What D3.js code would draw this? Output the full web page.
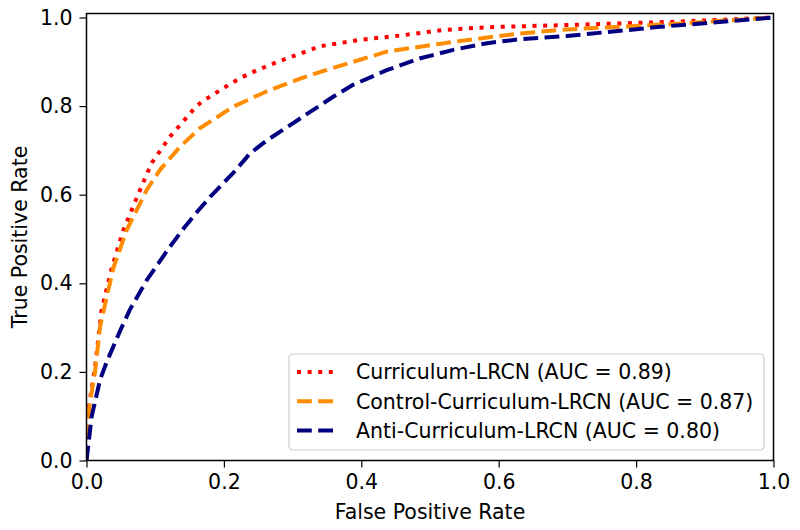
<!DOCTYPE html>
<html>
<head>
<meta charset="utf-8">
<script src="https://cdn.jsdelivr.net/npm/d3@7"></script>
<style>
  body { margin: 0; background: #fff; }
  svg { display: block; font-family: "DejaVu Sans", sans-serif; }
</style>
</head>
<body>
<svg id="chart" width="800" height="530"></svg>
<script>
// ---- data ----
const seriesNames = [
  "Curriculum-LRCN (AUC = 0.89)",
  "Control-Curriculum-LRCN (AUC = 0.87)",
  "Anti-Curriculum-LRCN (AUC = 0.80)"
];
const curriculumFPR = [0, 0, 0.005, 0.0124, 0.022, 0.0367, 0.0536, 0.078, 0.095, 0.1216, 0.16, 0.17, 0.209, 0.2235, 0.248, 0.282, 0.34, 0.40, 0.461, 0.52, 0.583, 0.699, 0.85, 1];
const curriculumTPR = [0, 0.08, 0.137, 0.21, 0.34, 0.434, 0.52, 0.611, 0.672, 0.731, 0.80, 0.812, 0.85, 0.863, 0.881, 0.902, 0.935, 0.950, 0.960, 0.972, 0.978, 0.983, 0.99, 1];
const controlFPR = [0, 0, 0.005, 0.0124, 0.0197, 0.039, 0.0585, 0.0877, 0.107, 0.136, 0.165, 0.214, 0.262, 0.311, 0.344, 0.437, 0.534, 0.631, 0.699, 0.85, 1];
const controlTPR = [0, 0.06, 0.13, 0.2, 0.302, 0.434, 0.52, 0.611, 0.656, 0.708, 0.75, 0.799, 0.833, 0.862, 0.879, 0.923, 0.945, 0.964, 0.973, 0.985, 1];
const antiFPR = [0, 0.0075, 0.0197, 0.030, 0.039, 0.049, 0.063, 0.0877, 0.1216, 0.143, 0.163, 0.180, 0.214, 0.238, 0.262, 0.311, 0.359, 0.388, 0.437, 0.486, 0.534, 0.583, 0.631, 0.699, 0.835, 1];
const antiTPR = [0, 0.099, 0.182, 0.225, 0.257, 0.293, 0.34, 0.407, 0.483, 0.527, 0.565, 0.595, 0.650, 0.693, 0.722, 0.772, 0.821, 0.848, 0.881, 0.908, 0.927, 0.942, 0.951, 0.958, 0.979, 1];
const xTicks = [0.0, 0.2, 0.4, 0.6, 0.8, 1.0];
const yTicks = [0.0, 0.2, 0.4, 0.6, 0.8, 1.0];

// ---- styles ----
const colors = ["#ff0000", "#ff8c00", "#000080"];
const dashes = ["4,6.6", "14.8,6.4", "14.8,6.4"];
const LW = 4;
const FS = 20.5;

const svg = d3.select("#chart");
const mL = 86.5, mR = 773.5, mT = 13.5, mB = 460.5;
const x = d3.scaleLinear().domain([0, 1]).range([mL, mR]);
const y = d3.scaleLinear().domain([0, 1.009]).range([mB, mT]);

const series = [
  curriculumFPR.map((v, i) => [v, curriculumTPR[i]]),
  controlFPR.map((v, i) => [v, controlTPR[i]]),
  antiFPR.map((v, i) => [v, antiTPR[i]])
];

svg.append("defs").append("clipPath").attr("id", "clip")
  .append("rect").attr("x", mL).attr("y", mT).attr("width", mR - mL).attr("height", mB - mT);

const line = d3.line().x(d => x(d[0])).y(d => y(d[1]));
const g = svg.append("g").attr("clip-path", "url(#clip)");
series.forEach((s, i) => {
  g.append("path").datum(s)
    .attr("d", line)
    .attr("fill", "none")
    .attr("stroke", colors[i])
    .attr("stroke-width", LW)
    .attr("stroke-dasharray", dashes[i])
    .attr("stroke-linejoin", "round");
});

// axes
const fmt = d3.format(".1f");
const xAxis = svg.append("g").attr("transform", `translate(0,${mB})`)
  .call(d3.axisBottom(x).tickValues(xTicks).tickFormat(fmt).tickSize(7).tickPadding(7));
const yAxis = svg.append("g").attr("transform", `translate(${mL},0)`)
  .call(d3.axisLeft(y).tickValues(yTicks).tickFormat(fmt).tickSize(7).tickPadding(7));
[xAxis, yAxis].forEach(a => {
  a.select(".domain").remove();
  a.selectAll("line").attr("stroke", "#000").attr("stroke-width", 1.2);
  a.selectAll("text").attr("font-family", "DejaVu Sans").attr("font-size", FS).attr("fill", "#000");
});

// frame
svg.append("rect").attr("x", mL).attr("y", mT).attr("width", mR - mL).attr("height", mB - mT)
  .attr("fill", "none").attr("stroke", "#000").attr("stroke-width", 1.5);

// axis labels
svg.append("text").attr("x", (mL + mR) / 2).attr("y", 519)
  .attr("text-anchor", "middle").attr("font-size", FS).text("False Positive Rate");
svg.append("text").attr("transform", `translate(27,${(mT + mB) / 2}) rotate(-90)`)
  .attr("text-anchor", "middle").attr("font-size", FS).text("True Positive Rate");

// legend
const lg = svg.append("g");
lg.append("rect").attr("x", 289).attr("y", 354).attr("width", 475).attr("height", 96)
  .attr("rx", 4).attr("fill", "#fff").attr("fill-opacity", 0.8)
  .attr("stroke", "#cccccc").attr("stroke-width", 1.2);
seriesNames.forEach((name, i) => {
  const yy = 372 + i * 29.3;
  lg.append("line").attr("x1", 297).attr("x2", 334).attr("y1", yy).attr("y2", yy)
    .attr("stroke", colors[i]).attr("stroke-width", LW).attr("stroke-dasharray", dashes[i]);
  lg.append("text").attr("x", 356).attr("y", yy).attr("dy", "0.36em")
    .attr("font-size", FS).text(name);
});
</script>
</body>
</html>
